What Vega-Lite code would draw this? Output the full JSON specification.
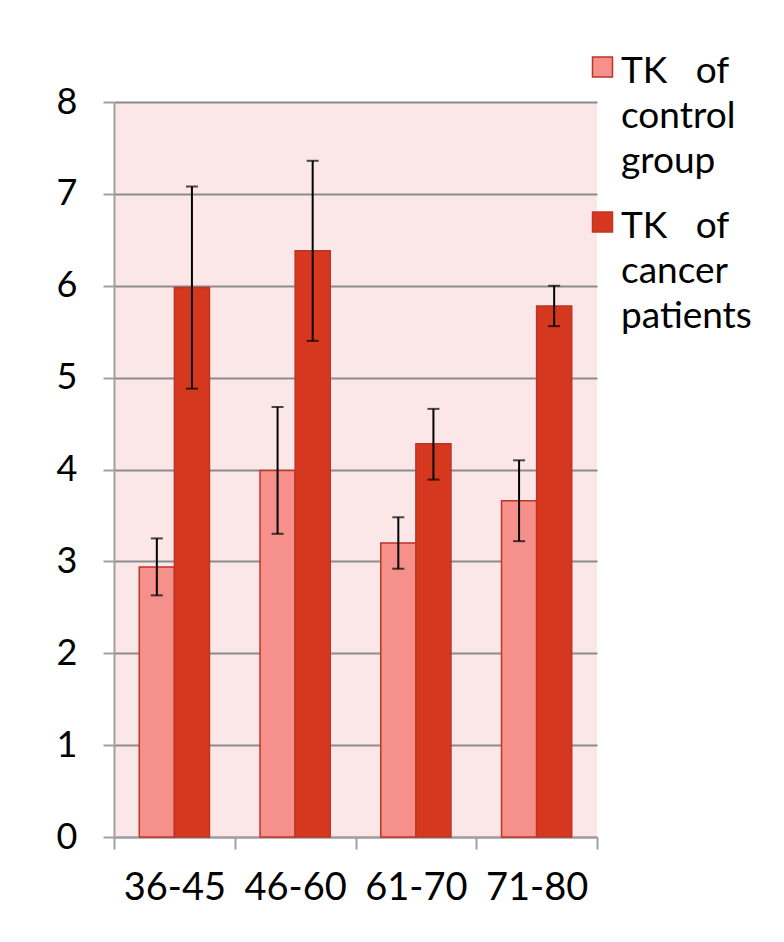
{
  "$schema": "https://vega.github.io/schema/vega-lite/v6.json",
  "width": 483,
  "height": 735,
  "autosize": {"type": "none"},
  "padding": {"left": 114, "top": 102, "right": 187, "bottom": 105},
  "background": "white",
  "config": {
    "view": {"fill": "#FCE7E8", "stroke": null},
    "font": "Lato",
    "style": {"guide-label": {"lineHeight": 45}}
  },
  "data": {
    "values": [
      {"age": "36-45", "group": "control", "mean": 2.94, "lo": 2.63, "hi": 3.25},
      {"age": "36-45", "group": "cancer", "mean": 5.98, "lo": 4.88, "hi": 7.08},
      {"age": "46-60", "group": "control", "mean": 3.99, "lo": 3.30, "hi": 4.68},
      {"age": "46-60", "group": "cancer", "mean": 6.38, "lo": 5.40, "hi": 7.36},
      {"age": "61-70", "group": "control", "mean": 3.20, "lo": 2.92, "hi": 3.48},
      {"age": "61-70", "group": "cancer", "mean": 4.28, "lo": 3.89, "hi": 4.66},
      {"age": "71-80", "group": "control", "mean": 3.66, "lo": 3.22, "hi": 4.10},
      {"age": "71-80", "group": "cancer", "mean": 5.78, "lo": 5.56, "hi": 6.00}
    ]
  },
  "encoding": {
    "x": {
      "field": "age", "type": "nominal", "sort": null,
      "scale": {"paddingInner": 0, "paddingOuter": 0},
      "axis": {
        "title": null, "labelAngle": 0, "labelFontSize": 38, "labelColor": "black",
        "labelPadding": 20, "tickBand": "extent", "tickSize": 12, "tickColor": "#A0A0A0",
        "tickWidth": 2, "domainColor": "#A0A0A0", "domainWidth": 2, "grid": false
      }
    },
    "xOffset": {"field": "group", "sort": ["control", "cancer"], "scale": {"paddingOuter": 0.72, "paddingInner": 0}}
  },
  "layer": [
    {
      "mark": {"type": "bar", "stroke": "#BC3526", "strokeWidth": 1.5},
      "encoding": {
        "y": {
          "field": "mean", "type": "quantitative",
          "scale": {"domain": [0, 8]},
          "axis": {
            "title": null, "values": [0, 1, 2, 3, 4, 5, 6, 7, 8], "format": "d", "labelFontSize": 36,
            "labelColor": "black", "labelPadding": 26, "tickSize": 11, "tickColor": "#A0A0A0",
            "tickWidth": 2, "domainColor": "#A0A0A0", "domainWidth": 2,
            "grid": true, "gridColor": "#8C8C8C", "gridWidth": 2
          }
        },
        "color": {
          "field": "group", "type": "nominal", "sort": ["control", "cancer"],
          "scale": {"range": ["#F5908A", "#D6381F"]},
          "legend": {
            "title": null, "orient": "none", "legendX": 470, "legendY": -67,
            "symbolType": "M-1,0.35H1V2.35H-1Z", "symbolSize": 400, "symbolStrokeColor": "#BC3526",
            "symbolStrokeWidth": 1.5, "labelFontSize": 37, "labelColor": "black",
            "labelLimit": 300, "labelBaseline": "top", "labelOffset": 0, "rowPadding": 10,
            "labelExpr": "datum.label == 'control' ? ['TK\u00a0\u00a0\u00a0of', 'control', 'group'] : ['TK\u00a0\u00a0\u00a0of', 'cancer', 'patients']"
          }
        }
      }
    },
    {
      "mark": {"type": "rule", "color": "black", "strokeWidth": 2},
      "encoding": {
        "y": {"field": "lo", "type": "quantitative"},
        "y2": {"field": "hi"}
      }
    },
    {
      "mark": {"type": "tick", "color": "black", "size": 12, "thickness": 2},
      "encoding": {"y": {"field": "lo", "type": "quantitative"}}
    },
    {
      "mark": {"type": "tick", "color": "black", "size": 12, "thickness": 2},
      "encoding": {"y": {"field": "hi", "type": "quantitative"}}
    }
  ]
}
